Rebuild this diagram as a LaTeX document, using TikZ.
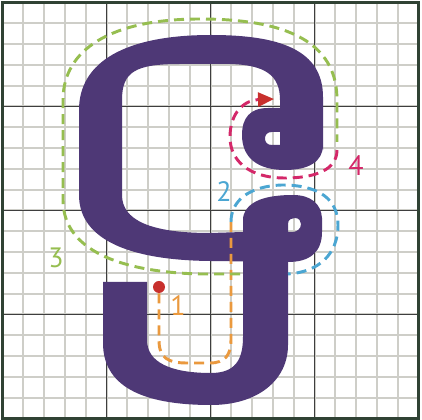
\documentclass[tikz,border=0pt]{standalone}
\usepackage{fontspec}
\setmainfont{PT Sans}
\usepackage{xcolor}
\usepackage{tikz}
\usetikzlibrary{arrows.meta,positioning}

\definecolor{glyphpurple}{RGB}{78,56,118}
\definecolor{gridlight}{RGB}{206,206,200}
\definecolor{griddark}{RGB}{62,62,62}
\definecolor{framegreen}{RGB}{48,66,52}
\definecolor{orderone}{RGB}{234,153,62}
\definecolor{ordertwo}{RGB}{75,166,210}
\definecolor{orderthree}{RGB}{150,190,80}
\definecolor{orderfour}{RGB}{212,40,105}
\definecolor{dotred}{RGB}{200,48,45}

\begin{document}
\begin{tikzpicture}[
  x=0.75pt,y=-0.75pt,
  font=\fontsize{21}{24}\selectfont,
  gridminor/.style={draw=gridlight,line width=1.5pt},
  gridmajor/.style={draw=griddark,line width=1.4pt},
  frame/.style={draw=framegreen,line width=2.2pt},
  glyph/.style={fill=glyphpurple,even odd rule},
  order/.style={line width=2.2pt,dash pattern=on 7.5pt off 4.5pt},
  startdot/.style={circle,fill=dotred,inner sep=0pt,minimum size=9pt},
  num/.style={inner sep=0pt},
]
\useasboundingbox (0,0) rectangle (422,420);
\fill[white] (0,0) rectangle (422,420);
\foreach \k in {1,...,19} {
  \draw[gridminor] ({2.5+20.8*\k},2.5) -- ({2.5+20.8*\k},418.5);
  \draw[gridminor] (2.5,{2.5+20.8*\k}) -- (418.5,{2.5+20.8*\k});
}
\foreach \k in {1,2,3} {
  \draw[gridmajor] ({2.5+104*\k},2.5) -- ({2.5+104*\k},418.5);
  \draw[gridmajor] (2.5,{2.5+104*\k}) -- (418.5,{2.5+104*\k});
}
\draw[frame] (2.5,2.5) rectangle (418.5,418.5);

\fill[glyph] (323,150) -- (323,97)
  .. controls (323,50) and (280,35) .. (211,35)
  .. controls (125,35) and (79,62) .. (79,110)
  -- (79,195)
  .. controls (79,235) and (120,260) .. (210,261)
  -- (288,262)
  .. controls (310,262) and (322,252) .. (322,232)
  -- (322,218)
  .. controls (321,203) and (310,195) .. (293,195)
  .. controls (268,195) and (246,200) .. (243,218)
  -- (243,232) -- (210,233)
  .. controls (150,233) and (122,220) .. (122,195)
  -- (122,100)
  .. controls (122,72) and (135,64) .. (180,64)
  -- (230,64)
  .. controls (265,65) and (280,75) .. (280,100)
  -- (280,108) -- (268,108)
  .. controls (250,108) and (242,118) .. (242,135)
  .. controls (242,158) and (258,170) .. (285,170)
  .. controls (308,170) and (323,162) .. (323,145) -- cycle
  (280,132) -- (272,132)
  .. controls (267,132) and (265,135) .. (265,138.5)
  .. controls (265,142) and (267,145) .. (272,145)
  -- (280,145) -- cycle
  (288,232) -- (288,224)
  .. controls (288,219) and (292,218) .. (295,218)
  .. controls (299,218) and (301,221) .. (301,224)
  .. controls (301,229) and (297,232) .. (292,232) -- cycle;
\fill[glyph] (288,245) -- (288,345)
  .. controls (288,380) and (258,405) .. (211,405)
  .. controls (140,405) and (103,385) .. (103,343)
  -- (103,282) -- (147,282) -- (147,340)
  .. controls (147,362) and (170,373) .. (211,373)
  .. controls (235,373) and (243,360) .. (243,337)
  -- (243,245) -- cycle;

\node[startdot] (dot) at (159,287) {};
\coordinate (oneend) at (231,222);
\coordinate (twoend) at (288,274);
\coordinate (threestart) at (240,274);
\coordinate (threeend) at (337,142);
\coordinate (fourstart) at (337,150);
\coordinate (fourend) at (274,99);

\draw[order,orderone] (dot) -- (159,340)
  .. controls (159,358) and (168,363) .. (187,363) -- (210,363)
  .. controls (225,363) and (231,355) .. (231,340) -- (oneend);
\draw[order,ordertwo] (oneend)
  .. controls (231,200) and (250,186) .. (282,185)
  .. controls (320,185) and (338,200) .. (338,225)
  .. controls (338,255) and (318,272) .. (twoend);
\draw[order,orderthree] (threestart) -- (200,274)
  .. controls (120,272) and (63,250) .. (63,200) -- (63,100)
  .. controls (63,50) and (110,19) .. (200,19)
  .. controls (300,19) and (337,50) .. (337,100) -- (threeend);
\draw[order,orderfour,-{Triangle[length=12pt,width=10.5pt,color=dotred]}] (fourstart)
  .. controls (337,170) and (315,178) .. (285,178)
  .. controls (248,178) and (230,160) .. (230,137)
  .. controls (230,112) and (245,100) .. (fourend);

\node[num,text=orderone]   (numone)   at (178,306) {1};
\node[num,text=ordertwo]   (numtwo)   at (224,192) {2};
\node[num,text=orderthree] (numthree) at (56,258)  {3};
\node[num,text=orderfour]  (numfour)  at (356,166) {4};
\end{tikzpicture}
\end{document}
